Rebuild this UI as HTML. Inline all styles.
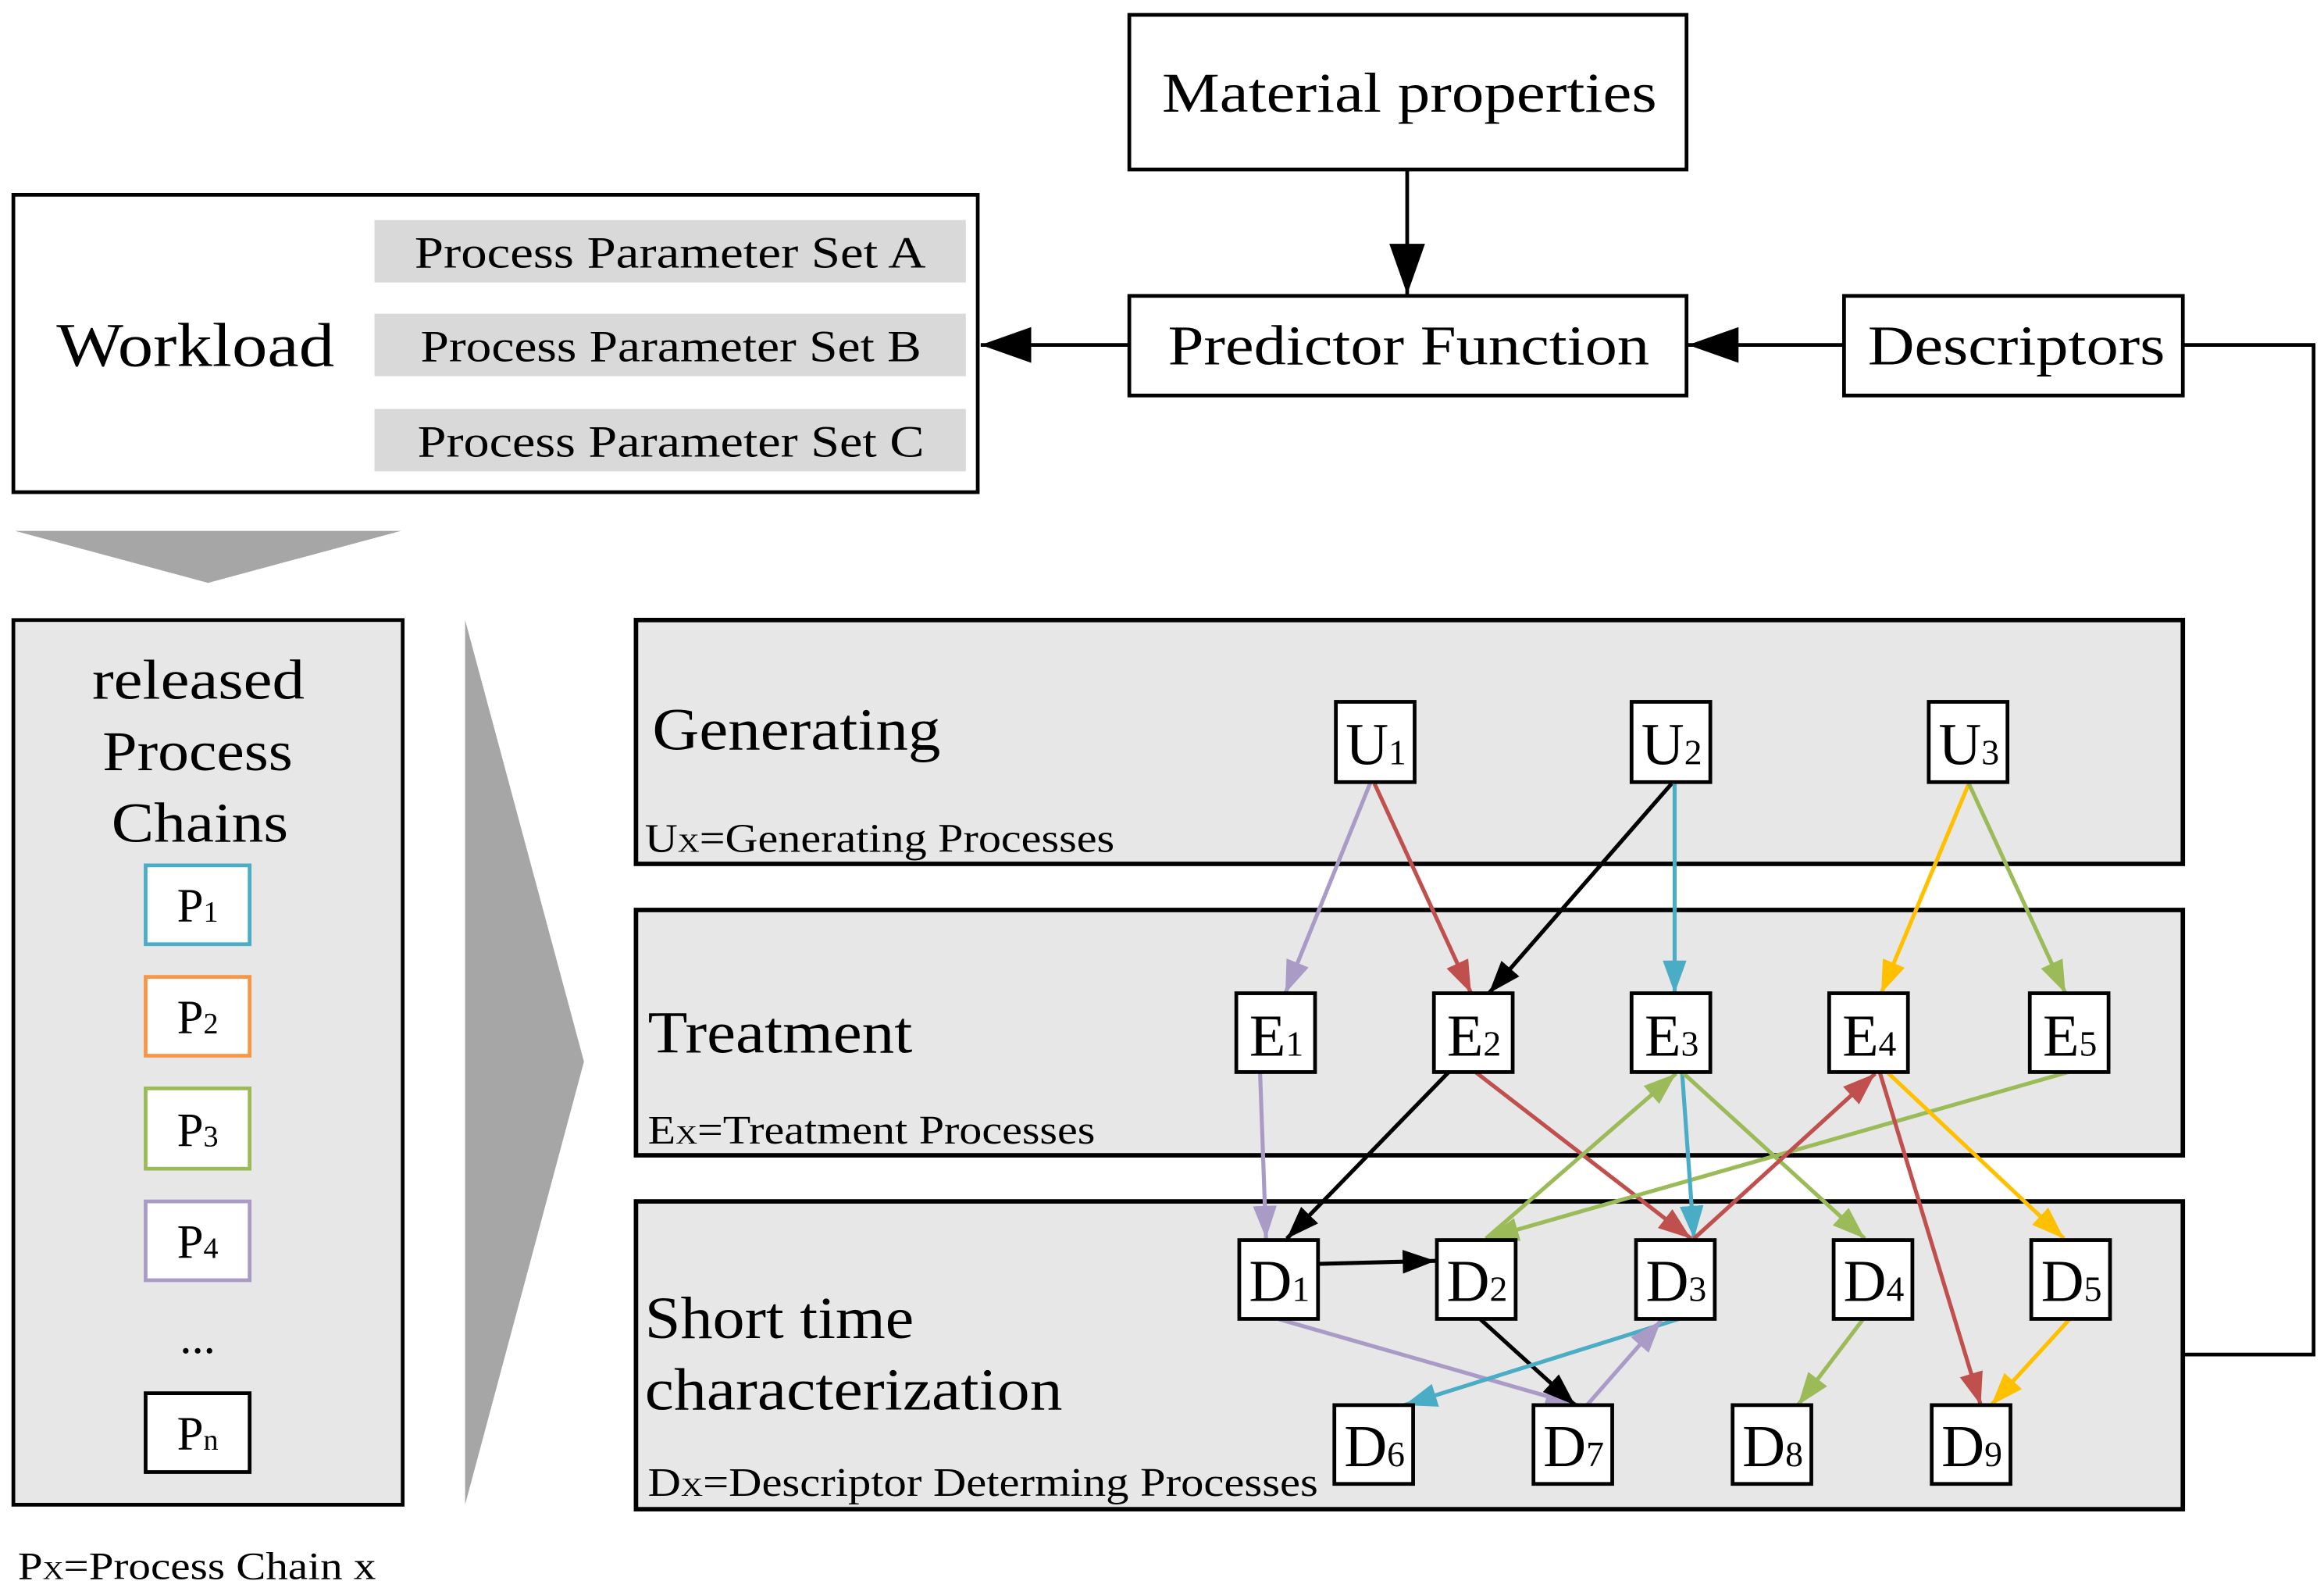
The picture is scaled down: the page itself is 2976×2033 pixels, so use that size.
<!DOCTYPE html>
<html><head><meta charset="utf-8"><style>html,body{margin:0;padding:0;background:#fff}svg{display:block}</style></head><body>
<svg width="2976" height="2033" viewBox="0 0 1564 1068" preserveAspectRatio="none" xmlns="http://www.w3.org/2000/svg" font-family="Liberation Serif, serif">
<defs>
<marker id="k" markerUnits="userSpaceOnUse" markerWidth="24" markerHeight="18" refX="22" refY="9" orient="auto"><path d="M0,1 L22,9 L0,17 z" fill="#000"/></marker>
<marker id="kb" markerUnits="userSpaceOnUse" markerWidth="36" markerHeight="26" refX="34" refY="13" orient="auto"><path d="M0,1 L34,13 L0,25 z" fill="#000"/></marker>
<marker id="pu" markerUnits="userSpaceOnUse" markerWidth="24" markerHeight="18" refX="22" refY="9" orient="auto"><path d="M0,1 L22,9 L0,17 z" fill="#a99bc6"/></marker>
<marker id="re" markerUnits="userSpaceOnUse" markerWidth="24" markerHeight="18" refX="22" refY="9" orient="auto"><path d="M0,1 L22,9 L0,17 z" fill="#c0504d"/></marker>
<marker id="bl" markerUnits="userSpaceOnUse" markerWidth="24" markerHeight="18" refX="22" refY="9" orient="auto"><path d="M0,1 L22,9 L0,17 z" fill="#4bacc6"/></marker>
<marker id="ye" markerUnits="userSpaceOnUse" markerWidth="24" markerHeight="18" refX="22" refY="9" orient="auto"><path d="M0,1 L22,9 L0,17 z" fill="#ffc000"/></marker>
<marker id="gr" markerUnits="userSpaceOnUse" markerWidth="24" markerHeight="18" refX="22" refY="9" orient="auto"><path d="M0,1 L22,9 L0,17 z" fill="#9bbb59"/></marker>
</defs>
<g stroke="#000" stroke-width="2.5" fill="#fff">
<rect x="760" y="10" width="375" height="104"/>
<rect x="760" y="199" width="375" height="67"/>
<rect x="1241" y="199" width="228" height="67"/>
<rect x="9" y="131" width="649" height="200"/>
</g>
<g fill="#d9d9d9"><rect x="252" y="148" width="398" height="42"/><rect x="252" y="211" width="398" height="42"/><rect x="252" y="275" width="398" height="42"/></g>
<g font-size="38" lengthAdjust="spacingAndGlyphs">
<text x="782" y="75" textLength="333" lengthAdjust="spacingAndGlyphs">Material properties</text>
<text x="786" y="245" textLength="324" lengthAdjust="spacingAndGlyphs">Predictor Function</text>
<text x="1257" y="245" textLength="200" lengthAdjust="spacingAndGlyphs">Descriptors</text>
</g>
<text x="38" y="246" font-size="42" textLength="187" lengthAdjust="spacingAndGlyphs">Workload</text>
<g font-size="30">
<text x="279" y="180" textLength="344" lengthAdjust="spacingAndGlyphs">Process Parameter Set A</text>
<text x="283" y="243" textLength="337" lengthAdjust="spacingAndGlyphs">Process Parameter Set B</text>
<text x="281" y="307" textLength="341" lengthAdjust="spacingAndGlyphs">Process Parameter Set C</text>
</g>
<g stroke="#000" stroke-width="2.5" fill="none">
<line x1="947" y1="114" x2="947" y2="198" marker-end="url(#kb)"/>
<line x1="1241" y1="232" x2="1136" y2="232" marker-end="url(#kb)"/>
<line x1="760" y1="232" x2="660" y2="232" marker-end="url(#kb)"/>
<polyline points="1469,232 1557,232 1557,911 1469,911"/>
</g>
<polygon points="10,357 270,357 140,392" fill="#a6a6a6"/>
<polygon points="313,417 313,1012 393,714" fill="#a6a6a6"/>
<rect x="9" y="417" width="262" height="595" fill="#e7e7e7" stroke="#000" stroke-width="2.5"/>
<g font-size="38">
<text x="62" y="470" textLength="143" lengthAdjust="spacingAndGlyphs">released</text>
<text x="69" y="518" textLength="128" lengthAdjust="spacingAndGlyphs">Process</text>
<text x="75" y="566" textLength="119" lengthAdjust="spacingAndGlyphs">Chains</text>
</g>
<g fill="#fff" stroke-width="2.5">
<rect x="98" y="582" width="70" height="53" stroke="#4bacc6"/>
<rect x="98" y="657" width="70" height="53" stroke="#f79646"/>
<rect x="98" y="732" width="70" height="54" stroke="#9bbb59"/>
<rect x="98" y="808" width="70" height="53" stroke="#a99bc6"/>
<rect x="98" y="937" width="70" height="53" stroke="#000"/>
</g>
<g font-size="32" text-anchor="middle">
<text x="133" y="620">P<tspan font-size="20">1</tspan></text>
<text x="133" y="695">P<tspan font-size="20">2</tspan></text>
<text x="133" y="771">P<tspan font-size="20">3</tspan></text>
<text x="133" y="846">P<tspan font-size="20">4</tspan></text>
<text x="133" y="910">...</text>
<text x="133" y="975">P<tspan font-size="20">n</tspan></text>
</g>
<text x="12" y="1062" font-size="26" textLength="241" lengthAdjust="spacingAndGlyphs">P<tspan font-size="17">X</tspan>=Process Chain x</text>
<g fill="#e7e7e7" stroke="#000" stroke-width="3">
<rect x="428" y="417" width="1041" height="164"/>
<rect x="428" y="612" width="1041" height="165"/>
<rect x="428" y="808" width="1041" height="207"/>
</g>
<g font-size="40">
<text x="439" y="504" textLength="194" lengthAdjust="spacingAndGlyphs">Generating</text>
<text x="436" y="708" textLength="178" lengthAdjust="spacingAndGlyphs">Treatment</text>
<text x="434" y="900" textLength="181" lengthAdjust="spacingAndGlyphs">Short time</text>
<text x="434" y="948" textLength="281" lengthAdjust="spacingAndGlyphs">characterization</text>
</g>
<g font-size="27">
<text x="434" y="573" textLength="316" lengthAdjust="spacingAndGlyphs">U<tspan font-size="18">X</tspan>=Generating Processes</text>
<text x="436" y="769" textLength="301" lengthAdjust="spacingAndGlyphs">E<tspan font-size="18">X</tspan>=Treatment Processes</text>
<text x="436" y="1006" textLength="451" lengthAdjust="spacingAndGlyphs">D<tspan font-size="18">X</tspan>=Descriptor Determing Processes</text>
</g>
<g stroke-width="2.7" fill="none">
<line x1="922" y1="527" x2="865" y2="668" stroke="#a99bc6" marker-end="url(#pu)"/>
<line x1="925" y1="527" x2="990" y2="668" stroke="#c0504d" marker-end="url(#re)"/>
<line x1="1125" y1="527" x2="1002" y2="668" stroke="#000" marker-end="url(#k)"/>
<line x1="1127" y1="527" x2="1127" y2="668" stroke="#4bacc6" marker-end="url(#bl)"/>
<line x1="1325" y1="527" x2="1266" y2="668" stroke="#ffc000" marker-end="url(#ye)"/>
<line x1="1325" y1="527" x2="1390" y2="668" stroke="#9bbb59" marker-end="url(#gr)"/>
<line x1="848" y1="721" x2="852" y2="833" stroke="#a99bc6" marker-end="url(#pu)"/>
<line x1="975" y1="721" x2="866" y2="833" stroke="#000" marker-end="url(#k)"/>
<line x1="993" y1="721" x2="1138" y2="833" stroke="#c0504d" marker-end="url(#re)"/>
<line x1="1000" y1="833" x2="1128" y2="722" stroke="#9bbb59" marker-end="url(#gr)"/>
<line x1="1392" y1="721" x2="1000" y2="833" stroke="#9bbb59" marker-end="url(#gr)"/>
<line x1="1132" y1="721" x2="1140" y2="833" stroke="#4bacc6" marker-end="url(#bl)"/>
<line x1="1132" y1="721" x2="1255" y2="833" stroke="#9bbb59" marker-end="url(#gr)"/>
<line x1="1140" y1="833" x2="1262" y2="722" stroke="#c0504d" marker-end="url(#re)"/>
<line x1="1265" y1="721" x2="1333" y2="945" stroke="#c0504d" marker-end="url(#re)"/>
<line x1="1270" y1="721" x2="1389" y2="833" stroke="#ffc000" marker-end="url(#ye)"/>
<line x1="887" y1="850" x2="966" y2="848" stroke="#000" marker-end="url(#k)"/>
<line x1="860" y1="887" x2="1062" y2="945" stroke="#a99bc6" marker-end="url(#pu)"/>
<line x1="996" y1="887" x2="1060" y2="945" stroke="#000" marker-end="url(#k)"/>
<line x1="1130" y1="887" x2="945" y2="945" stroke="#4bacc6" marker-end="url(#bl)"/>
<line x1="1068" y1="945" x2="1118" y2="888" stroke="#a99bc6" marker-end="url(#pu)"/>
<line x1="1254" y1="887" x2="1210" y2="945" stroke="#9bbb59" marker-end="url(#gr)"/>
<line x1="1393" y1="887" x2="1340" y2="945" stroke="#ffc000" marker-end="url(#ye)"/>
</g>
<g fill="#fff" stroke="#000" stroke-width="2.5">
<rect x="899" y="472" width="53" height="54"/><rect x="1098" y="472" width="53" height="54"/><rect x="1298" y="472" width="53" height="54"/>
<rect x="832" y="668" width="53" height="53"/><rect x="965" y="668" width="53" height="53"/><rect x="1098" y="668" width="53" height="53"/><rect x="1231" y="668" width="53" height="53"/><rect x="1366" y="668" width="53" height="53"/>
<rect x="834" y="834" width="53" height="53"/><rect x="967" y="834" width="53" height="53"/><rect x="1101" y="834" width="53" height="53"/><rect x="1234" y="834" width="53" height="53"/><rect x="1367" y="834" width="53" height="53"/>
<rect x="898" y="945" width="53" height="53"/><rect x="1032" y="945" width="53" height="53"/><rect x="1166" y="945" width="53" height="53"/><rect x="1300" y="945" width="53" height="53"/>
</g>
<g font-size="40" text-anchor="middle">
<text x="926" y="514">U<tspan font-size="24">1</tspan></text>
<text x="1125" y="514">U<tspan font-size="24">2</tspan></text>
<text x="1325" y="514">U<tspan font-size="24">3</tspan></text>
<text x="859" y="710">E<tspan font-size="24">1</tspan></text>
<text x="992" y="710">E<tspan font-size="24">2</tspan></text>
<text x="1125" y="710">E<tspan font-size="24">3</tspan></text>
<text x="1258" y="710">E<tspan font-size="24">4</tspan></text>
<text x="1393" y="710">E<tspan font-size="24">5</tspan></text>
<text x="861" y="875">D<tspan font-size="24">1</tspan></text>
<text x="994" y="875">D<tspan font-size="24">2</tspan></text>
<text x="1128" y="875">D<tspan font-size="24">3</tspan></text>
<text x="1261" y="875">D<tspan font-size="24">4</tspan></text>
<text x="1394" y="875">D<tspan font-size="24">5</tspan></text>
<text x="925" y="986">D<tspan font-size="24">6</tspan></text>
<text x="1059" y="986">D<tspan font-size="24">7</tspan></text>
<text x="1193" y="986">D<tspan font-size="24">8</tspan></text>
<text x="1327" y="986">D<tspan font-size="24">9</tspan></text>
</g>
</svg>
</body></html>
